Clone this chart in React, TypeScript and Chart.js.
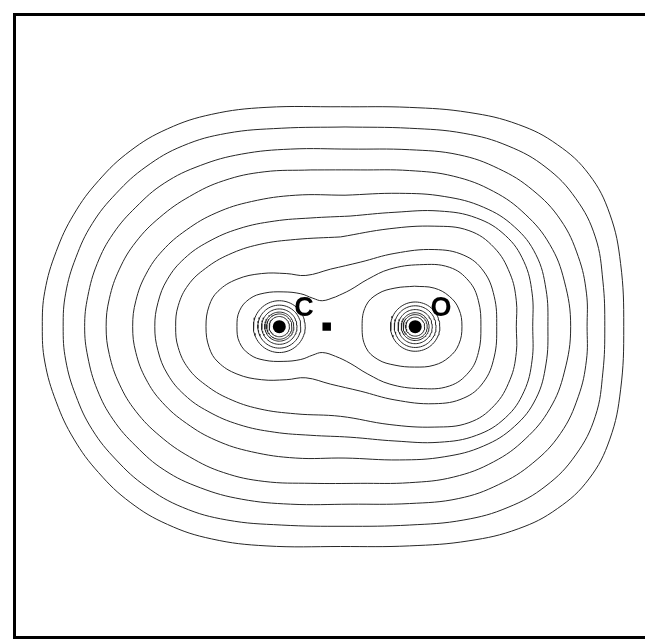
import React, { useEffect, useRef } from "react";
import { Chart, registerables } from "chart.js";

Chart.register(...registerables);

// Electron-density contours of CO (units: bohr). Upper half of each contour, left -> right;
// the lower half is the mirror image across the molecular axis.
const c1x = [-4.56, -4.52, -4.34, -4.06, -3.67, -3.17, -2.58, -1.88, -1.02, 0.16, 1.25, 2.19, 2.97, 3.59, 4.09, 4.42, 4.59, 4.64];
const c1y = [0, 0.56, 1.19, 1.78, 2.31, 2.78, 3.13, 3.36, 3.47, 3.48, 3.47, 3.39, 3.2, 2.88, 2.41, 1.78, 1.0, 0];
const c2x = [-4.23, -4.19, -4.03, -3.77, -3.39, -2.92, -2.34, -1.64, -0.78, 0.23, 1.25, 2.11, 2.81, 3.41, 3.88, 4.19, 4.31, 4.34];
const c2y = [0, 0.53, 1.09, 1.63, 2.11, 2.53, 2.86, 3.06, 3.14, 3.16, 3.14, 3.06, 2.86, 2.52, 2.03, 1.42, 0.72, 0];
const c3x = [-3.89, -3.84, -3.69, -3.44, -3.08, -2.63, -2.06, -1.41, -0.63, 0.31, 1.25, 2.03, 2.66, 3.2, 3.64, 3.92, 4.05, 4.06];
const c3y = [0, 0.48, 1.0, 1.47, 1.89, 2.27, 2.55, 2.73, 2.81, 2.81, 2.8, 2.72, 2.5, 2.16, 1.69, 1.11, 0.53, 0];
const c4x = [-3.55, -3.5, -3.34, -3.08, -2.7, -2.23, -1.69, -1.05, -0.31, 0.47, 1.25, 1.95, 2.58, 3.08, 3.47, 3.7, 3.8];
const c4y = [0, 0.44, 0.91, 1.34, 1.73, 2.06, 2.31, 2.45, 2.48, 2.48, 2.47, 2.38, 2.14, 1.78, 1.3, 0.72, 0];
const c5x = [-3.13, -3.08, -2.92, -2.66, -2.28, -1.81, -1.25, -0.55, 0.23, 1.09, 1.8, 2.42, 2.91, 3.25, 3.41, 3.44];
const c5y = [0, 0.41, 0.83, 1.2, 1.53, 1.8, 1.98, 2.08, 2.08, 2.11, 2.06, 1.89, 1.58, 1.14, 0.59, 0];
const c6x = [-2.78, -2.73, -2.58, -2.31, -1.94, -1.45, -0.89, -0.31, 0.31, 1.02, 1.72, 2.31, 2.77, 3.06, 3.19, 3.2];
const c6y = [0, 0.38, 0.75, 1.08, 1.34, 1.55, 1.67, 1.72, 1.75, 1.81, 1.83, 1.72, 1.44, 1.03, 0.53, 0];
const c7x = [-2.45, -2.41, -2.25, -1.98, -1.61, -1.13, -0.55, 0.16, 0.94, 1.64, 2.19, 2.59, 2.84, 2.94, 2.94];
const c7y = [0, 0.33, 0.66, 0.92, 1.14, 1.3, 1.38, 1.42, 1.55, 1.59, 1.52, 1.25, 0.84, 0.41, 0];
const c8x = [-1.97, -1.92, -1.78, -1.48, -1.09, -0.7, -0.39, 0, 0.47, 1.02, 1.64, 2.11, 2.42, 2.59, 2.63];
const c8y = [0, 0.33, 0.56, 0.75, 0.84, 0.84, 0.81, 0.91, 1.02, 1.16, 1.22, 1.13, 0.88, 0.48, 0];
const c9x = [-1.48, -1.44, -1.28, -1.05, -0.75, -0.47, -0.28, -0.13, 0.08, 0.31, 0.59, 0.94, 1.41, 1.88, 2.19, 2.34, 2.38];
const c9y = [0, 0.25, 0.44, 0.53, 0.55, 0.52, 0.45, 0.41, 0.47, 0.58, 0.75, 0.91, 0.98, 0.94, 0.72, 0.41, 0];
const oLobeX = [0.5, 0.56, 0.75, 1.02, 1.33, 1.64, 1.88, 2.03, 2.08];
const oLobeY = [0, 0.33, 0.52, 0.61, 0.64, 0.61, 0.48, 0.28, 0];

// Nuclei positions (bohr) and the near-nucleus circular contours (radii, bohr)
const atomLabels = ["C", "O"];
const atomX = [-0.81, 1.34];
const carbonRings = [0.41, 0.34, 0.28, 0.23, 0.2, 0.16];
const oxygenRings = [0.39, 0.33, 0.27, 0.22, 0.19, 0.15];
const markX = [-0.06];
const labelX = [-0.42, 1.75];
const labelY = [0.28, 0.28];

const contourXs = [c1x, c2x, c3x, c4x, c5x, c6x, c7x, c8x, c9x, oLobeX];
const contourYs = [c1y, c2y, c3y, c4y, c5y, c6y, c7y, c8y, c9y, oLobeY];

function closedLoop(xs: number[], ys: number[]) {
  const upper = xs.map((x, i) => ({ x, y: ys[i] }));
  const lower = xs
    .slice(1, -1)
    .map((x, i) => ({ x, y: -ys[i + 1] }))
    .reverse();
  const loop = [...upper, ...lower];
  const start = Math.floor(upper.length / 2);
  const rotated = [...loop.slice(start), ...loop.slice(0, start)];
  rotated.push(rotated[0]);
  return rotated;
}

function ring(cx: number, r: number) {
  const pts = [] as { x: number; y: number }[];
  const n = 72;
  for (let i = 0; i <= n; i++) {
    const a = (i / n) * Math.PI * 2;
    pts.push({ x: cx + r * Math.cos(a), y: r * Math.sin(a) });
  }
  return pts;
}

const LINE = "#262626";

export default function App() {
  const ref = useRef<HTMLCanvasElement | null>(null);
  useEffect(() => {
    if (!ref.current) return;
    const datasets: any[] = [];
    contourXs.forEach((xs, k) => {
      datasets.push({
        data: closedLoop(xs, contourYs[k]),
        showLine: true,
        borderColor: LINE,
        borderWidth: 1,
        pointRadius: 0,
        tension: 0.4,
        fill: false,
      });
    });
    [carbonRings, oxygenRings].forEach((radii, a) => {
      radii.forEach((r) => {
        datasets.push({
          data: ring(atomX[a], r),
          showLine: true,
          borderColor: LINE,
          borderWidth: 1,
          pointRadius: 0,
          tension: 0,
          fill: false,
        });
      });
    });
    datasets.push({
      data: atomX.map((x) => ({ x, y: 0 })),
      showLine: false,
      pointRadius: 6.5,
      pointBackgroundColor: "#000",
      pointBorderColor: "#000",
      pointBorderWidth: 0,
    });
    datasets.push({
      data: markX.map((x) => ({ x, y: 0 })),
      showLine: false,
      pointStyle: "rect",
      pointRadius: 6,
      pointBackgroundColor: "#000",
      pointBorderColor: "#000",
      pointBorderWidth: 0,
    });

    const decor = {
      id: "decor",
      afterDatasetsDraw(chart: any) {
        const { ctx, chartArea, scales } = chart;
        ctx.save();
        ctx.fillStyle = "#000";
        ctx.font = "bold 27px 'Liberation Sans', Arial, sans-serif";
        ctx.textAlign = "center";
        ctx.textBaseline = "middle";
        atomLabels.forEach((t, i) => {
          ctx.fillText(t, scales.x.getPixelForValue(labelX[i]), scales.y.getPixelForValue(labelY[i]));
        });
        ctx.strokeStyle = "#000";
        ctx.lineWidth = 3;
        ctx.strokeRect(chartArea.left, chartArea.top, chartArea.right - chartArea.left, chartArea.bottom - chartArea.top);
        ctx.restore();
      },
    };

    const chart = new Chart(ref.current, {
      type: "scatter",
      data: { datasets },
      options: {
        responsive: false,
        animation: false,
        devicePixelRatio: 1,
        layout: { padding: { left: 1.5, top: 2, right: 3, bottom: 3 } },
        plugins: { legend: { display: false }, tooltip: { enabled: false } },
        events: [],
        scales: {
          x: { type: "linear", min: -5, max: 5, display: false },
          y: { type: "linear", min: -4.92, max: 4.94, display: false },
        },
      },
      plugins: [decor],
    });
    return () => chart.destroy();
  }, []);
  return <canvas ref={ref} width={645} height={636} style={{ display: "block", width: 645, height: 636 }} />;
}
